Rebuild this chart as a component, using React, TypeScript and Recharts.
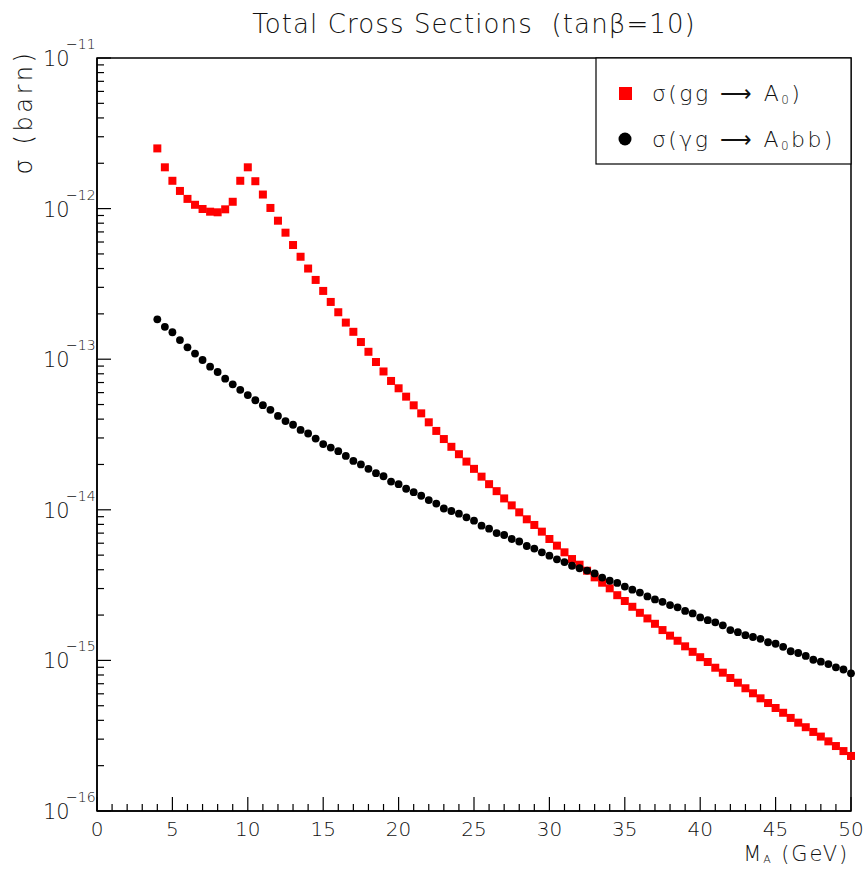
import React from 'react';
import { ScatterChart, Scatter, XAxis, YAxis, ReferenceArea } from 'recharts';

const masses = [
  4, 4.5, 5, 5.5, 6, 6.5, 7, 7.5, 8, 8.5, 9, 9.5,
  10, 10.5, 11, 11.5, 12, 12.5, 13, 13.5, 14, 14.5, 15, 15.5, 16, 16.5, 17, 17.5, 18, 18.5, 19, 19.5,
  20, 20.5, 21, 21.5, 22, 22.5, 23, 23.5, 24, 24.5, 25, 25.5, 26, 26.5, 27, 27.5, 28, 28.5, 29, 29.5,
  30, 30.5, 31, 31.5, 32, 32.5, 33, 33.5, 34, 34.5, 35, 35.5, 36, 36.5, 37, 37.5, 38, 38.5, 39, 39.5,
  40, 40.5, 41, 41.5, 42, 42.5, 43, 43.5, 44, 44.5, 45, 45.5, 46, 46.5, 47, 47.5, 48, 48.5, 49, 49.5,
  50,
];

// sigma(gg -> A0), barn
const sigmaGG = [
  2.51e-12, 1.88e-12, 1.53e-12, 1.31e-12, 1.16e-12, 1.06e-12, 9.94e-13, 9.54e-13, 9.45e-13, 9.89e-13, 1.11e-12, 1.53e-12,
  1.88e-12, 1.52e-12, 1.24e-12, 1.01e-12, 8.31e-13, 6.92e-13, 5.73e-13, 4.79e-13, 4.0e-13, 3.36e-13,
  2.84e-13, 2.4e-13, 2.05e-13, 1.75e-13, 1.52e-13, 1.3e-13, 1.12e-13, 9.58e-14, 8.29e-14, 7.17e-14,
  6.41e-14, 5.64e-14, 4.94e-14, 4.37e-14, 3.81e-14, 3.34e-14, 2.95e-14, 2.62e-14, 2.34e-14, 2.09e-14,
  1.87e-14, 1.66e-14, 1.48e-14, 1.33e-14, 1.19e-14, 1.07e-14, 9.62e-15, 8.65e-15, 7.93e-15, 7.16e-15,
  6.4e-15, 5.78e-15, 5.22e-15, 4.71e-15, 4.32e-15, 3.94e-15, 3.56e-15, 3.28e-15, 3.01e-15, 2.71e-15,
  2.48e-15, 2.27e-15, 2.07e-15, 1.9e-15, 1.75e-15, 1.59e-15, 1.46e-15, 1.35e-15, 1.24e-15, 1.14e-15,
  1.05e-15, 9.76e-16, 8.94e-16, 8.29e-16, 7.64e-16, 7.11e-16, 6.53e-16, 6.05e-16, 5.6e-16, 5.21e-16,
  4.83e-16, 4.49e-16, 4.15e-16, 3.86e-16, 3.6e-16, 3.35e-16, 3.12e-16, 2.9e-16, 2.7e-16, 2.5e-16,
  2.32e-16,
];

// sigma(gamma g -> A0 b b), barn
const sigmaGammaG = [
  1.84e-13, 1.64e-13, 1.51e-13, 1.34e-13, 1.2e-13, 1.09e-13, 9.88e-14, 8.92e-14, 8.22e-14, 7.42e-14, 6.81e-14, 6.26e-14,
  5.78e-14, 5.34e-14, 4.95e-14, 4.61e-14, 4.2e-14, 3.88e-14, 3.67e-14, 3.39e-14, 3.21e-14, 2.97e-14,
  2.73e-14, 2.59e-14, 2.45e-14, 2.28e-14, 2.11e-14, 2.0e-14, 1.87e-14, 1.75e-14, 1.67e-14, 1.54e-14,
  1.48e-14, 1.38e-14, 1.31e-14, 1.24e-14, 1.16e-14, 1.1e-14, 1.02e-14, 9.82e-15, 9.42e-15, 8.92e-15,
  8.47e-15, 7.84e-15, 7.49e-15, 7.01e-15, 6.8e-15, 6.4e-15, 6.16e-15, 5.75e-15, 5.53e-15, 5.22e-15,
  4.96e-15, 4.69e-15, 4.5e-15, 4.25e-15, 4.09e-15, 3.95e-15, 3.78e-15, 3.55e-15, 3.38e-15, 3.27e-15,
  3.09e-15, 2.95e-15, 2.82e-15, 2.66e-15, 2.54e-15, 2.45e-15, 2.33e-15, 2.25e-15, 2.13e-15, 2.05e-15,
  1.93e-15, 1.85e-15, 1.79e-15, 1.71e-15, 1.59e-15, 1.54e-15, 1.47e-15, 1.43e-15, 1.39e-15, 1.32e-15,
  1.29e-15, 1.23e-15, 1.15e-15, 1.12e-15, 1.07e-15, 1.01e-15, 9.8e-16, 9.46e-16, 9.0e-16, 8.7e-16,
  8.21e-16,
];

// x ticks every 1 GeV, labelled every 5
const xTicks = [
  0, 1, 2, 3, 4, 5, 6, 7, 8, 9, 10, 11, 12, 13, 14, 15, 16, 17, 18, 19, 20, 21, 22, 23, 24, 25,
  26, 27, 28, 29, 30, 31, 32, 33, 34, 35, 36, 37, 38, 39, 40, 41, 42, 43, 44, 45, 46, 47, 48, 49, 50,
];
const decades = [-16, -15, -14, -13, -12, -11];
const mantissas = [1, 2, 3, 4, 5, 6, 7, 8, 9];
const yTicks: number[] = [];
decades.forEach((d) => {
  mantissas.forEach((m) => {
    if (d === -11 && m > 1) return;
    yTicks.push(Number(`${m}e${d}`));
  });
});

const ggData = masses.map((m, i) => ({ m, s: sigmaGG[i] }));
const gammaData = masses.map((m, i) => ({ m, s: sigmaGammaG[i] }));

const W = 863;
const H = 873;
const LEFT = 97;
const RIGHT = 851;
const TOP = 58;
const BOTTOM = 811;
const FONT = "'DejaVu Sans', sans-serif";
const INK = '#111';

const XTick = (props: any) => {
  const { x, payload } = props;
  const v = payload.value;
  const major = v % 5 === 0;
  return (
    <g>
      <line x1={x} x2={x} y1={BOTTOM} y2={BOTTOM - (major ? 14 : 7)} stroke="#000" strokeWidth={1.2} />
      {major && (
        <text x={x} y={836} textAnchor="middle" fontFamily={FONT} fontWeight={200} fontSize={20} fill={INK}>
          {v}
        </text>
      )}
    </g>
  );
};

const YTick = (props: any) => {
  const { y, payload } = props;
  const v = payload.value;
  const lg = Math.log10(v);
  const major = Math.abs(lg - Math.round(lg)) < 1e-6;
  return (
    <g>
      <line x1={LEFT} x2={LEFT + (major ? 14 : 7)} y1={y} y2={y} stroke="#000" strokeWidth={1.2} />
      {major && (
        <text fontFamily={FONT} fontWeight={200} fill={INK}>
          <tspan x={43} y={y + 8} fontSize={21}>10</tspan>
          <tspan x={66} y={y - 9} fontSize={14}>{`\u2212${Math.abs(Math.round(lg))}`}</tspan>
        </text>
      )}
    </g>
  );
};

const square = (props: any) => (
  <rect x={props.cx - 4} y={props.cy - 4} width={8} height={8} fill="#ff0000" />
);
const dot = (props: any) => <circle cx={props.cx} cy={props.cy} r={3.9} fill="#000" />;

export default function App() {
  return (
    <div style={{ position: 'absolute', left: 0, top: 0, width: W, height: H, background: '#fff' }}>
      <ScatterChart width={W} height={H} margin={{ top: TOP, right: W - RIGHT, bottom: 32, left: 0 }}>
        <XAxis
          type="number"
          dataKey="m"
          domain={[0, 50]}
          ticks={xTicks}
          interval={0}
          tick={<XTick />}
          tickLine={false}
          axisLine={{ stroke: '#000', strokeWidth: 1.5 }}
          height={30}
        />
        <YAxis
          type="number"
          dataKey="s"
          scale="log"
          domain={[1e-16, 1e-11]}
          allowDataOverflow
          ticks={yTicks}
          interval={0}
          tick={<YTick />}
          tickLine={false}
          axisLine={{ stroke: '#000', strokeWidth: 1.5 }}
          width={LEFT}
        />
        <ReferenceArea x1={0} x2={50} y1={1e-16} y2={1e-11} fill="none" stroke="#000" strokeWidth={1.5} ifOverflow="visible" />
        <Scatter data={ggData} shape={square} isAnimationActive={false} />
        <Scatter data={gammaData} shape={dot} isAnimationActive={false} />
      </ScatterChart>
      <svg
        width={W}
        height={H}
        style={{ position: 'absolute', left: 0, top: 0, pointerEvents: 'none' }}
        fontFamily={FONT}
        fontWeight={200}
        fill={INK}
      >
        <text x={474} y={33} textAnchor="middle" fontSize={26} letterSpacing={1.1}>
          {'Total Cross Sections\u00a0\u00a0(tan\u03b2=10)'}
        </text>
        <text transform="translate(32,112) rotate(-90)" textAnchor="middle" fontSize={24} letterSpacing={3.6}>
          {'\u03c3 (barn)'}
        </text>
        <text x={849} y={861} textAnchor="end" fontSize={21} letterSpacing={1.9}>
          M<tspan fontSize={11} dy={2}>A</tspan>
          <tspan dy={-2}> (GeV)</tspan>
        </text>
        <rect x={596} y={TOP} width={RIGHT - 596} height={106} fill="#fff" stroke="#000" strokeWidth={1.2} />
        <rect x={619} y={87} width={13} height={13} fill="#ff0000" />
        <text x={652} y={101} fontSize={22} letterSpacing={2.4}>
          {'\u03c3(gg \u27f6 A'}<tspan fontSize={12} dy={3}>0</tspan>
          <tspan dy={-3}>)</tspan>
        </text>
        <circle cx={625} cy={139} r={6.5} fill="#000" />
        <text x={652} y={147} fontSize={22} letterSpacing={2.4}>
          {'\u03c3(\u03b3g \u27f6 A'}<tspan fontSize={12} dy={3}>0</tspan>
          <tspan dy={-3}>bb)</tspan>
        </text>
      </svg>
    </div>
  );
}
